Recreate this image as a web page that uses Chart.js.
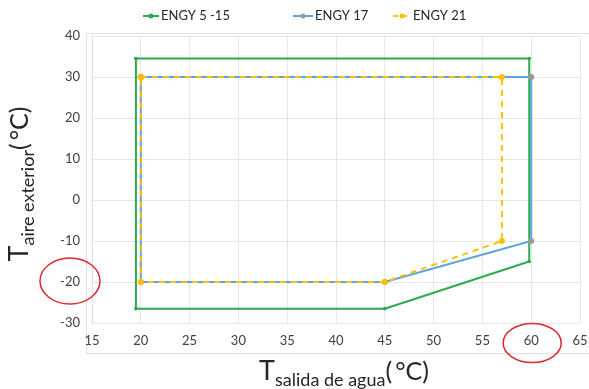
<!DOCTYPE html>
<html>
<head>
<meta charset="utf-8">
<script src="https://cdn.jsdelivr.net/npm/chart.js@4/dist/chart.umd.min.js"></script>
<style>
  html, body { margin: 0; padding: 0; background: #fff; }
  #wrap { width: 589px; height: 389px; }
</style>
</head>
<body>
<div id="wrap"><canvas id="envelopeChart"></canvas></div>
<script>
    const seriesNames = ['ENGY 5 -15', 'ENGY 17', 'ENGY 21'];

    // operating envelopes: water outlet temp (x) vs outdoor air temp (y)
    const engy515X = [19.5, 59.8, 59.8, 45, 19.5, 19.5];
    const engy515Y = [34.5, 34.5, -15, -26.5, -26.5, 34.5];
    const engy17X = [20, 60, 60, 45, 20, 20];
    const engy17Y = [30, 30, -10, -20, -20, 30];
    const engy21X = [20, 57, 57, 45, 20, 20];
    const engy21Y = [30, 30, -10, -20, -20, 30];

    const xTicks = [15, 20, 25, 30, 35, 40, 45, 50, 55, 60, 65];
    const yTicks = [-30, -20, -10, 0, 10, 20, 30, 40];

    const green = '#2ea84f';
    const blue = '#5aa6dc';
    const yellow = '#ffc000';
    const markerGrey = '#9a9a9a';
    const fontFamily = 'Lato, "Open Sans", sans-serif';

    function toPoints(xs, ys) {
      return xs.map((x, i) => ({ x: x, y: ys[i] }));
    }

    // legend drawn by hand so the items sit where the original has them
    const legendItems = [
      { text: seriesNames[0], color: green, dot: green, dash: [], x: 143, w: 16 },
      { text: seriesNames[1], color: blue, dot: markerGrey, dash: [], x: 293, w: 20 },
      { text: seriesNames[2], color: yellow, dot: yellow, dash: [5, 4], x: 393, w: 18 }
    ];

    const annotations = {
      id: 'annotations',
      beforeDraw(chart) {
        const ctx = chart.ctx;
        const { top, bottom } = chart.chartArea;
        ctx.save();
        ctx.strokeStyle = '#e3e3e3';
        ctx.lineWidth = 1;
        ctx.strokeRect(86.5, top - 2.5, chart.width - 86, bottom - top + 33);
        ctx.restore();
      },
      afterDraw(chart) {
        const ctx = chart.ctx;
        const xs = chart.scales.x, ys = chart.scales.y;

        // legend
        ctx.save();
        ctx.font = '13px ' + fontFamily;
        ctx.textBaseline = 'middle';
        legendItems.forEach(it => {
          ctx.strokeStyle = it.color;
          ctx.lineWidth = 2;
          ctx.setLineDash(it.dash);
          ctx.beginPath(); ctx.moveTo(it.x, 16); ctx.lineTo(it.x + it.w, 16); ctx.stroke();
          ctx.setLineDash([]);
          ctx.fillStyle = it.dot;
          ctx.beginPath(); ctx.arc(it.x + it.w / 2, 16, 2.5, 0, Math.PI * 2); ctx.fill();
          ctx.fillStyle = '#262626';
          ctx.fillText(it.text, it.x + it.w + 2, 16);
        });
        ctx.restore();

        // rich axis titles: big T + subscript + unit
        const parts = (sub) => [
          { t: 'T', size: 27, dy: 0 },
          { t: sub, size: 18, dy: 6 },
          { t: '(\u2009\u00B0C)', size: 25, dy: 0 }
        ];
        function drawRich(list, cx, baseline) {
          let total = 0;
          list.forEach(p => { ctx.font = p.size + 'px ' + fontFamily; p.w = ctx.measureText(p.t).width; total += p.w; });
          let x = cx - total / 2;
          list.forEach(p => {
            ctx.font = p.size + 'px ' + fontFamily;
            ctx.fillText(p.t, x, baseline + p.dy);
            x += p.w;
          });
        }
        ctx.save();
        ctx.fillStyle = '#262626';
        ctx.textBaseline = 'alphabetic';
        ctx.textAlign = 'left';
        drawRich(parts('salida de agua'), 344, 380);
        ctx.translate(28, 184);
        ctx.rotate(-Math.PI / 2);
        drawRich(parts('aire exterior'), 0, 0);
        ctx.restore();

        // red circles around -20 and 60
        ctx.save();
        ctx.strokeStyle = '#e0242b';
        ctx.lineWidth = 1.5;
        ctx.beginPath();
        ctx.ellipse(70, ys.getPixelForValue(-20) - 1, 30, 23, 0, 0, Math.PI * 2);
        ctx.stroke();
        ctx.beginPath();
        ctx.ellipse(xs.getPixelForValue(60) + 1, chart.chartArea.bottom + 20, 29, 19.5, 0, 0, Math.PI * 2);
        ctx.stroke();
        ctx.restore();
      }
    };

    const ctx = document.getElementById('envelopeChart').getContext('2d');
    const chart = new Chart(ctx, {
      type: 'scatter',
      data: {
        datasets: [
          {
            label: seriesNames[0],
            data: toPoints(engy515X, engy515Y),
            showLine: true,
            borderColor: green,
            backgroundColor: green,
            borderWidth: 2,
            pointRadius: 1.8,
            pointBorderWidth: 0,
            order: 3
          },
          {
            label: seriesNames[1],
            data: toPoints(engy17X, engy17Y),
            showLine: true,
            borderColor: blue,
            backgroundColor: markerGrey,
            borderWidth: 2,
            pointRadius: 3,
            pointBorderWidth: 0,
            order: 2
          },
          {
            label: seriesNames[2],
            data: toPoints(engy21X, engy21Y),
            showLine: true,
            borderColor: yellow,
            backgroundColor: yellow,
            borderWidth: 2,
            borderDash: [6, 5],
            pointRadius: 3,
            pointBorderWidth: 0,
            order: 1
          }
        ]
      },
      options: {
        responsive: true,
        maintainAspectRatio: false,
        animation: false,
        layout: { padding: { top: 36, right: 9, left: 0, bottom: 0 } },
        plugins: {
          tooltip: { enabled: false },
          legend: { display: false }
        },
        scales: {
          x: {
            type: 'linear',
            min: xTicks[0],
            max: xTicks[xTicks.length - 1],
            afterBuildTicks: (s) => { s.ticks = xTicks.map(v => ({ value: v })); },
            afterFit: (s) => { s.height = 66; s.paddingLeft = 0; s.paddingRight = 0; },
            grid: { color: '#e6e6e6', drawTicks: false },
            border: { display: false },
            ticks: { color: '#404040', font: { family: fontFamily, size: 13 }, padding: 10 }
          },
          y: {
            type: 'linear',
            min: yTicks[0],
            max: yTicks[yTicks.length - 1],
            afterBuildTicks: (s) => { s.ticks = yTicks.map(v => ({ value: v })); },
            afterFit: (s) => { s.width = 92; },
            grid: { color: '#e6e6e6', drawTicks: false },
            border: { display: true, color: '#e0e0e0' },
            ticks: { color: '#404040', font: { family: fontFamily, size: 13 }, padding: 12 }
          }
        }
      },
      plugins: [annotations]
    });
</script>
</body>
</html>
